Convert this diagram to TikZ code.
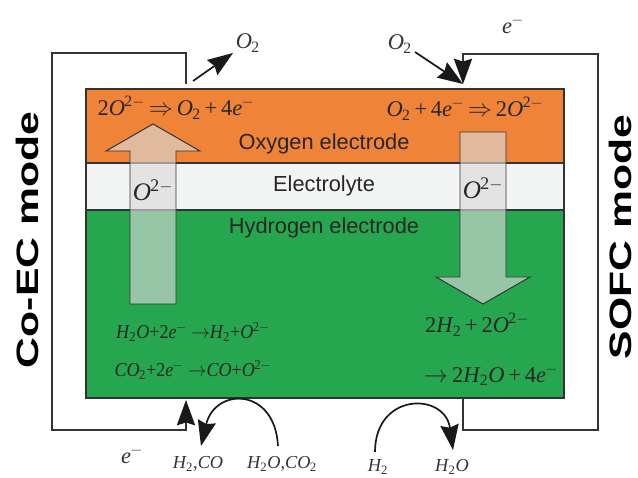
\documentclass[tikz,border=0pt]{standalone}
\usepackage{fontspec}
\usepackage{tikz}
\usetikzlibrary{
    arrows.meta,
    calc,
    positioning
}
\setmainfont{Liberation Sans}
\newfontfamily\eqfont{Liberation Serif}
\newcommand{\sym}[1]{\textit{#1}}
\newcommand{\sub}[1]{\kern-0.5pt\textsubscript{#1}}
\newcommand{\chg}{\kern-0.5pt\textsuperscript{2$-$}}
\newcommand{\elc}{\sym{e}\kern-0.5pt\textsuperscript{$-$}}
\definecolor{oxygenband}{HTML}{EF8438}
\definecolor{electrolyteband}{HTML}{F3F5F4}
\definecolor{hydrogenband}{HTML}{27A650}
\definecolor{edgedark}{HTML}{333333}
\tikzset{
    band/.style={draw=edgedark, line width=1.1pt},
    wire/.style={draw=edgedark, line width=1pt},
    ionflow/.style={draw=edgedark, line width=0.7pt, fill=black!15, fill opacity=0.63},
    flowtip/.style={-{Stealth[length=18pt, width=13pt, inset=2pt, color=black!90]}},
    bigtip/.style={flowtip, line width=1.2pt, black!90},
    layerlabel/.style={font=\fontsize{15.5}{18}\selectfont, text=black!85, inner sep=0pt},
    eqn/.style={font=\eqfont\fontsize{16}{18}\selectfont, text=black!85, inner sep=0pt},
    eqnsmall/.style={font=\eqfont\fontsize{14}{16}\selectfont, text=black!85, inner sep=0pt},
    gas/.style={font=\eqfont\fontsize{13}{16}\selectfont, text=black!80, inner sep=0pt},
    gasbig/.style={gas, font=\eqfont\fontsize{16}{18}\selectfont},
    modelabel/.style={font=\bfseries\fontsize{22}{26}\selectfont, rotate=90, inner sep=0pt}
}
\begin{document}
\begin{tikzpicture}[x=0.025cm, y=-0.025cm]
    \useasboundingbox (0, 0) rectangle (638, 478);
    % cell layers
    \draw[band, fill=oxygenband] (86, 89) rectangle (564, 163);
    \draw[band, fill=electrolyteband] (86, 163) rectangle (564, 210);
    \draw[band, fill=hydrogenband] (86, 210) rectangle (564, 398);
    \node[layerlabel] (oxygen) at (324, 144) {Oxygen electrode};
    \node[layerlabel] (electrolyte) at (324, 186) {Electrolyte};
    \node[layerlabel] (hydrogen) at (324, 228) {Hydrogen electrode};
    % ion arrows
    \draw[ionflow] (130, 304) -- (130, 151) -- (106, 151) -- (153, 124) -- (200, 151) -- (176, 151) -- (176, 304) -- cycle;
    \draw[ionflow] (460, 132) -- (460, 277) -- (436, 277) -- (483, 304) -- (530, 277) -- (506, 277) -- (506, 132) -- cycle;
    % reactions
    \node[eqn] (ionleft) at (153, 190) {\fontsize{18}{20}\selectfont\sym{O}\chg};
    \node[eqn] (ionright) at (483, 188) {\fontsize{18}{20}\selectfont\sym{O}\chg};
    \node[eqn] (anodeleft) at (176, 108) {2\sym{O}\chg\,$\Rightarrow$\,\sym{O}\sub{2}\,+\,4\elc};
    \node[eqn] (cathoderight) at (465, 109) {\sym{O}\sub{2}\,+\,4\elc\,$\Rightarrow$\,2\sym{O}\chg};
    \node[eqnsmall] (steam) at (193, 332) {\scalebox{0.92}[1]{\sym{H}\sub{2}\sym{O}+2\elc{} $\rightarrow$\sym{H}\sub{2}+\sym{O}\chg}};
    \node[eqnsmall] (carbon) at (193, 370) {\scalebox{0.92}[1]{\sym{CO}\sub{2}+2\elc{} $\rightarrow$\sym{CO}+\sym{O}\chg}};
    \node[eqn] (fuelone) at (477, 325) {2\sym{H}\sub{2}\,+\,2\sym{O}\chg};
    \node[eqn] (fueltwo) at (491, 375) {$\rightarrow$\,2\sym{H}\sub{2}\sym{O}\,+\,4\elc};
    % external circuits
    \coordinate (coectop) at (186, 84);
    \coordinate (coecbottom) at (186, 400);
    \coordinate (sofctop) at (463, 84);
    \coordinate (sofcbottom) at (463, 398);
    \draw[wire, flowtip] (coectop) -- (186, 53) -- (52, 53) -- (52, 430) -- (186, 430) -- (coecbottom);
    \draw[wire, flowtip] (sofcbottom) -- (463, 430) -- (598, 430) -- (598, 54) -- (463, 54) -- (sofctop);
    % gases
    \node[gasbig] (oxout) at (248, 43) {\sym{O}\sub{2}};
    \node[gasbig] (oxin) at (400, 44) {\sym{O}\sub{2}};
    \node[gasbig] (eleup) at (513, 25) {\elc};
    \node[gasbig] (eledown) at (132, 455) {\elc};
    \node[gas] (syngas) at (198, 464) {\sym{H}\sub{2},\sym{CO}};
    \node[gas] (feedgas) at (282, 464) {\sym{H}\sub{2}\sym{O},\sym{CO}\sub{2}};
    \node[gas] (fuelgas) at (378, 467) {\sym{H}\sub{2}};
    \node[gas] (watergas) at (452, 467) {\sym{H}\sub{2}\sym{O}};
    \coordinate (oxoutstart) at (193, 81);
    \coordinate (oxoutend) at (233, 53);
    \coordinate (oxinstart) at (415, 52);
    \draw[bigtip] (oxoutstart) -- (oxoutend);
    \draw[bigtip] (oxinstart) -- (sofctop);
    \coordinate (feedstart) at (278, 446);
    \coordinate (synend) at (201, 446);
    \coordinate (fuelstart) at (375, 452);
    \coordinate (waterend) at (453, 450);
    \draw[bigtip] (feedstart) .. controls (275, 387) and (215, 387) .. (synend);
    \draw[bigtip] (fuelstart) .. controls (375, 392) and (445, 392) .. (waterend);
    % mode labels
    \node[modelabel] (coecmode) at (27, 240) {\scalebox{1.38}[1]{Co-EC mode}};
    \node[modelabel] (sofcmode) at (620, 237) {\scalebox{1.38}[1]{SOFC mode}};
\end{tikzpicture}
\end{document}
